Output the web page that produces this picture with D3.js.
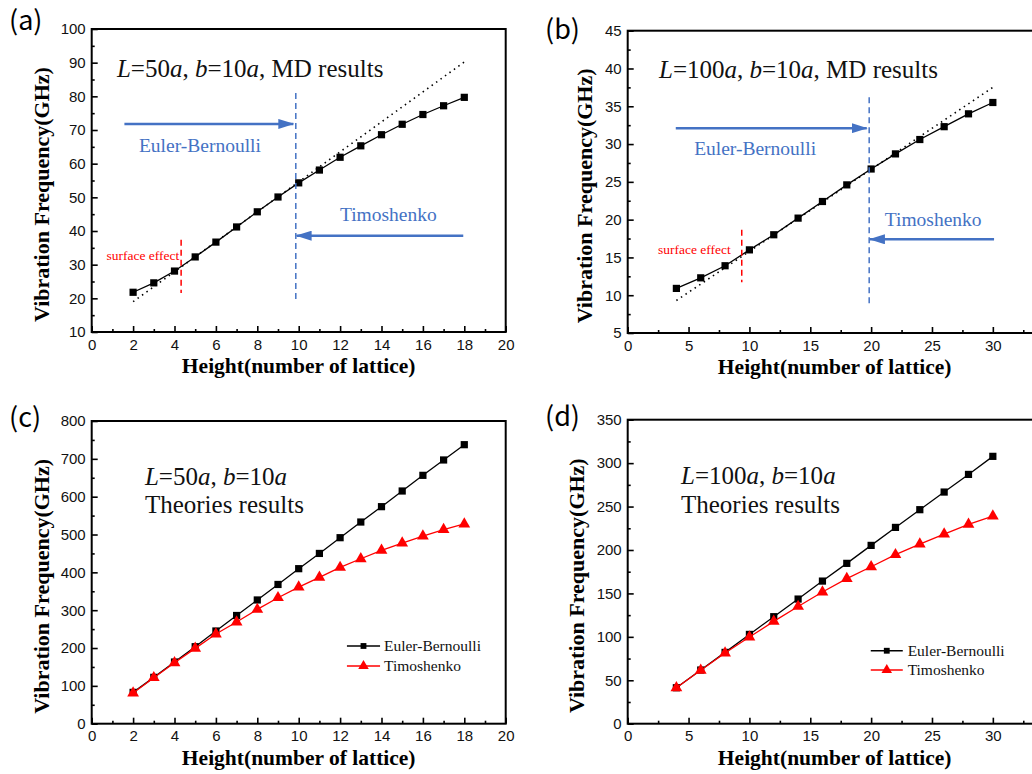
<!DOCTYPE html>
<html>
<head>
<meta charset="utf-8">
<script src="https://cdn.jsdelivr.net/npm/d3@7"></script>
<style>
  body { margin: 0; background: #fff; }
  svg { display: block; }
</style>
</head>
<body>
<svg width="1032" height="774"></svg>
<script>
// ---- data ----
var heightsA = [2, 3, 4, 5, 6, 7, 8, 9, 10, 11, 12, 13, 14, 15, 16, 17, 18];
var mdFreqA = [21.8, 24.6, 28.1, 32.3, 36.7, 41.2, 45.7, 50.1, 54.3, 58.1, 61.9, 65.3, 68.6, 71.7, 74.6, 77.2, 79.7];
var fitHeightA = [2, 18];
var fitFreqA = [19.0, 90.2];

var heightsB = [4, 6, 8, 10, 12, 14, 16, 18, 20, 22, 24, 26, 28, 30];
var mdFreqB = [10.9, 12.3, 13.9, 16.0, 18.0, 20.2, 22.4, 24.6, 26.7, 28.7, 30.6, 32.3, 34.0, 35.5];
var fitHeightB = [4, 30];
var fitFreqB = [9.3, 37.5];

var heightsC = [2, 3, 4, 5, 6, 7, 8, 9, 10, 11, 12, 13, 14, 15, 16, 17, 18];
var ebFreqC = [82.8, 122.5, 163, 203.5, 245, 286, 327, 368, 409.7, 450, 491.6, 533, 573.6, 615, 656.4, 697, 737.4];
var timoFreqC = [81, 121.6, 161, 199, 237, 268.7, 302, 333, 361, 386.8, 413, 436, 458, 477.5, 496, 512.8, 527.8];

var heightsD = [4, 6, 8, 10, 12, 14, 16, 18, 20, 22, 24, 26, 28, 30];
var ebFreqD = [41.4, 61.8, 82.1, 102.8, 123.2, 143.5, 164.2, 184.6, 205.3, 226, 246.4, 266.7, 287, 307.8];
var timoFreqD = [41.4, 61.5, 81.4, 99.8, 117.8, 135, 151.6, 167, 180.7, 194.6, 206.8, 218.3, 229.5, 239];

var seriesNames = ["Euler-Bernoulli", "Timoshenko"];
var panelNames = ["(a)", "(b)", "(c)", "(d)"];

var xTicks20 = [0, 2, 4, 6, 8, 10, 12, 14, 16, 18, 20];
var xTicks30 = [0, 5, 10, 15, 20, 25, 30];
var yTicksA = [10, 20, 30, 40, 50, 60, 70, 80, 90, 100];
var yTicksB = [5, 10, 15, 20, 25, 30, 35, 40, 45];
var yTicksC = [0, 100, 200, 300, 400, 500, 600, 700, 800];
var yTicksD = [0, 50, 100, 150, 200, 250, 300, 350];

var svg = d3.select("svg");
var BLUE = "#4472C4", RED = "#FF0000";
var serif = "'Times New Roman', 'Liberation Serif', serif";
var sans = "Arial, 'Liberation Sans', sans-serif";

var defs = svg.append("defs");
defs.append("marker")
    .attr("id", "arrowBlue")
    .attr("markerUnits", "userSpaceOnUse")
    .attr("viewBox", "0 0 16 10")
    .attr("refX", 15).attr("refY", 5)
    .attr("markerWidth", 16).attr("markerHeight", 10)
    .attr("orient", "auto")
    .append("path")
    .attr("d", "M0,0 L16,5 L0,10 Z")
    .attr("fill", BLUE);

// minor ticks halfway between majors, plus more past the last if the axis goes on
function minors(t, domain) {
    var m = [];
    for (var i = 0; i < t.length - 1; i++) m.push((t[i] + t[i + 1]) / 2);
    var step = t[1] - t[0];
    var v = t[t.length - 1] + step / 2;
    while (v < domain[1]) { m.push(v); v += step / 2; }
    return m;
}

// draws frame, axes and labels; returns the scales
function panel(o) {
    var g = svg.append("g");
    var x = d3.scaleLinear().domain(o.xDomain).range([o.left, o.right]);
    var y = d3.scaleLinear().domain(o.yDomain).range([o.bottom, o.top]);

    g.append("g").attr("transform", "translate(0," + o.bottom + ")")
        .call(d3.axisBottom(x).tickValues(o.xTicks).tickSizeInner(-6).tickSizeOuter(0).tickPadding(7));
    g.append("g").attr("transform", "translate(0," + o.bottom + ")")
        .call(d3.axisBottom(x).tickValues(minors(o.xTicks, o.xDomain)).tickSizeInner(-3).tickSizeOuter(0).tickFormat(""));
    g.append("g").attr("transform", "translate(" + o.left + ",0)")
        .call(d3.axisLeft(y).tickValues(o.yTicks).tickSizeInner(-6).tickSizeOuter(0).tickPadding(6));
    g.append("g").attr("transform", "translate(" + o.left + ",0)")
        .call(d3.axisLeft(y).tickValues(minors(o.yTicks, o.yDomain)).tickSizeInner(-3).tickSizeOuter(0).tickFormat(""));

    g.selectAll(".domain").remove();
    g.selectAll(".tick line").attr("stroke", "#000").attr("stroke-width", 1.6);
    g.selectAll(".tick text").attr("font-family", sans).attr("font-size", 15).attr("fill", "#111");

    g.append("rect")
        .attr("x", o.left).attr("y", o.top)
        .attr("width", o.right - o.left).attr("height", o.bottom - o.top)
        .attr("fill", "none").attr("stroke", "#000").attr("stroke-width", 2);

    g.append("text")
        .attr("transform", "translate(" + (o.left - o.yLabelOff) + "," + ((o.top + o.bottom) / 2 + 14) + ") rotate(-90)")
        .attr("text-anchor", "middle")
        .attr("font-family", serif).attr("font-weight", "bold").attr("font-size", 22)
        .text("Vibration Frequency(GHz)");
    g.append("text")
        .attr("x", (o.left + o.right) / 2 - o.xLabelShift).attr("y", o.bottom + 41)
        .attr("text-anchor", "middle")
        .attr("font-family", serif).attr("font-weight", "bold").attr("font-size", 21.5)
        .text("Height(number of lattice)");

    svg.append("text")
        .attr("x", o.tagX).attr("y", o.tagY)
        .attr("font-family", "'Noto Sans CJK JP', 'DejaVu Sans', sans-serif").attr("font-size", 27)
        .text(o.tag);

    return { g: g, x: x, y: y };
}

function richText(g, px, py, parts, size) {
    var t = g.append("text").attr("x", px).attr("y", py)
        .attr("font-family", serif).attr("font-size", size).attr("fill", "#111");
    parts.forEach(function (p) {
        t.append("tspan").attr("font-style", p[1] ? "italic" : "normal").text(p[0]);
    });
}

function series(p, xs, ys, color, shape) {
    var pts = xs.map(function (d, i) { return [d, ys[i]]; });
    p.g.append("path")
        .datum(pts)
        .attr("d", d3.line().x(function (d) { return p.x(d[0]); }).y(function (d) { return p.y(d[1]); }))
        .attr("fill", "none").attr("stroke", color).attr("stroke-width", 1.3);
    var sym = d3.symbol().type(shape === "tri" ? d3.symbolTriangle : d3.symbolSquare).size(shape === "tri" ? 60 : 52);
    p.g.selectAll(null).data(pts).enter().append("path")
        .attr("transform", function (d) { return "translate(" + p.x(d[0]) + "," + p.y(d[1]) + ")"; })
        .attr("d", sym)
        .attr("fill", color);
}

function fitLine(p, xs, ys) {
    p.g.append("line")
        .attr("x1", p.x(xs[0])).attr("y1", p.y(ys[0]))
        .attr("x2", p.x(xs[1])).attr("y2", p.y(ys[1]))
        .attr("stroke", "#000").attr("stroke-width", 1.6).attr("stroke-dasharray", "1.5,4");
}

function vdash(p, xv, ya, yb, color, w) {
    p.g.append("line")
        .attr("x1", p.x(xv)).attr("x2", p.x(xv))
        .attr("y1", p.y(ya)).attr("y2", p.y(yb))
        .attr("stroke", color).attr("stroke-width", w).attr("stroke-dasharray", "6,4");
}

function arrow(p, xa, xb, yv) {
    p.g.append("line")
        .attr("x1", p.x(xa)).attr("x2", p.x(xb))
        .attr("y1", p.y(yv)).attr("y2", p.y(yv))
        .attr("stroke", BLUE).attr("stroke-width", 2.6)
        .attr("marker-end", "url(#arrowBlue)");
}

function label(p, xv, yv, txt, anchor, color, size) {
    p.g.append("text")
        .attr("x", p.x(xv)).attr("y", p.y(yv))
        .attr("text-anchor", anchor)
        .attr("font-family", serif).attr("font-size", size).attr("fill", color)
        .text(txt);
}

function legend(p, xl0, xl1, xt, rows) {
    rows.forEach(function (r) {
        var yy = p.y(r.y);
        p.g.append("line")
            .attr("x1", p.x(xl0)).attr("x2", p.x(xl1)).attr("y1", yy).attr("y2", yy)
            .attr("stroke", r.color).attr("stroke-width", 1.3);
        p.g.append("path")
            .attr("transform", "translate(" + (p.x(xl0) + p.x(xl1)) / 2 + "," + yy + ")")
            .attr("d", d3.symbol().type(r.shape === "tri" ? d3.symbolTriangle : d3.symbolSquare).size(r.shape === "tri" ? 48 : 34))
            .attr("fill", r.color);
        p.g.append("text")
            .attr("x", p.x(xt)).attr("y", yy + 5)
            .attr("font-family", serif).attr("font-size", 15.5).attr("fill", "#111")
            .text(r.name);
    });
}

// ---- (a) ----
var pa = panel({ left: 91.7, right: 505.7, top: 29, bottom: 332, xDomain: [0, 20], yDomain: [10, 100],
    xTicks: xTicks20, yTicks: yTicksA, yLabelOff: 43, xLabelShift: 0, tag: panelNames[0], tagX: 9, tagY: 30 });
fitLine(pa, fitHeightA, fitFreqA);
series(pa, heightsA, mdFreqA, "#000", "sq");
vdash(pa, 9.86, 81, 18.8, BLUE, 1.5);
vdash(pa, 4.32, 37.4, 21.6, RED, 1.5);
arrow(pa, 1.58, 9.74, 71.8);
arrow(pa, 17.95, 9.9, 38.6);
label(pa, 5.23, 63.4, seriesNames[0], "middle", BLUE, 19.5);
label(pa, 14.33, 42.9, seriesNames[1], "middle", BLUE, 19.5);
label(pa, 4.23, 31.3, "surface effect", "end", RED, 13.5);
richText(pa.g, pa.x(1.22), pa.y(85.7), [["L", 1], ["=50", 0], ["a", 1], [", ", 0], ["b", 1], ["=10", 0], ["a", 1], [", MD results", 0]], 25);

// ---- (b) ----
var pb = panel({ left: 627.7, right: 1053.7, top: 30.7, bottom: 333, xDomain: [0, 35], yDomain: [5, 45],
    xTicks: xTicks30, yTicks: yTicksB, yLabelOff: 36, xLabelShift: 6, tag: panelNames[1], tagX: 545, tagY: 39 });
fitLine(pb, fitHeightB, fitFreqB);
series(pb, heightsB, mdFreqB, "#000", "sq");
vdash(pb, 19.84, 36.2, 8.5, BLUE, 1.5);
vdash(pb, 9.37, 18.65, 11.7, RED, 1.5);
arrow(pb, 3.95, 19.64, 32.1);
arrow(pb, 30.1, 19.9, 17.4);
label(pb, 10.47, 28.5, seriesNames[0], "middle", BLUE, 19.5);
label(pb, 25.1, 19.2, seriesNames[1], "middle", BLUE, 19.5);
label(pb, 8.47, 15.5, "surface effect", "end", RED, 13.5);
richText(pb.g, pb.x(2.57), pb.y(38.7), [["L", 1], ["=100", 0], ["a", 1], [", ", 0], ["b", 1], ["=10", 0], ["a", 1], [", MD results", 0]], 25);

// ---- (c) ----
var pc = panel({ left: 91.7, right: 505.7, top: 421, bottom: 723.7, xDomain: [0, 20], yDomain: [0, 800],
    xTicks: xTicks20, yTicks: yTicksC, yLabelOff: 43, xLabelShift: 0, tag: panelNames[2], tagX: 9, tagY: 427 });
series(pc, heightsC, ebFreqC, "#000", "sq");
series(pc, heightsC, timoFreqC, RED, "tri");
richText(pc.g, pc.x(2.57), pc.y(631), [["L", 1], ["=50", 0], ["a", 1], [", ", 0], ["b", 1], ["=10", 0], ["a", 1]], 25);
richText(pc.g, pc.x(2.57), pc.y(557), [["Theories results", 0]], 25);
legend(pc, 12.33, 13.93, 14.12, [
    { name: seriesNames[0], y: 205.4, color: "#000", shape: "sq" },
    { name: seriesNames[1], y: 152.5, color: RED, shape: "tri" }]);

// ---- (d) ----
var pd = panel({ left: 627.7, right: 1053.7, top: 419.7, bottom: 723.7, xDomain: [0, 35], yDomain: [0, 350],
    xTicks: xTicks30, yTicks: yTicksD, yLabelOff: 43.4, xLabelShift: 6, tag: panelNames[3], tagX: 545, tagY: 426 });
series(pd, heightsD, ebFreqD, "#000", "sq");
series(pd, heightsD, timoFreqD, RED, "tri");
richText(pd.g, pd.x(4.38), pd.y(275.6), [["L", 1], ["=100", 0], ["a", 1], [", ", 0], ["b", 1], ["=10", 0], ["a", 1]], 25);
richText(pd.g, pd.x(4.38), pd.y(242.6), [["Theories results", 0]], 25);
legend(pd, 19.97, 22.6, 23.0, [
    { name: seriesNames[0], y: 84, color: "#000", shape: "sq" },
    { name: seriesNames[1], y: 61.8, color: RED, shape: "tri" }]);
</script>
</body>
</html>
